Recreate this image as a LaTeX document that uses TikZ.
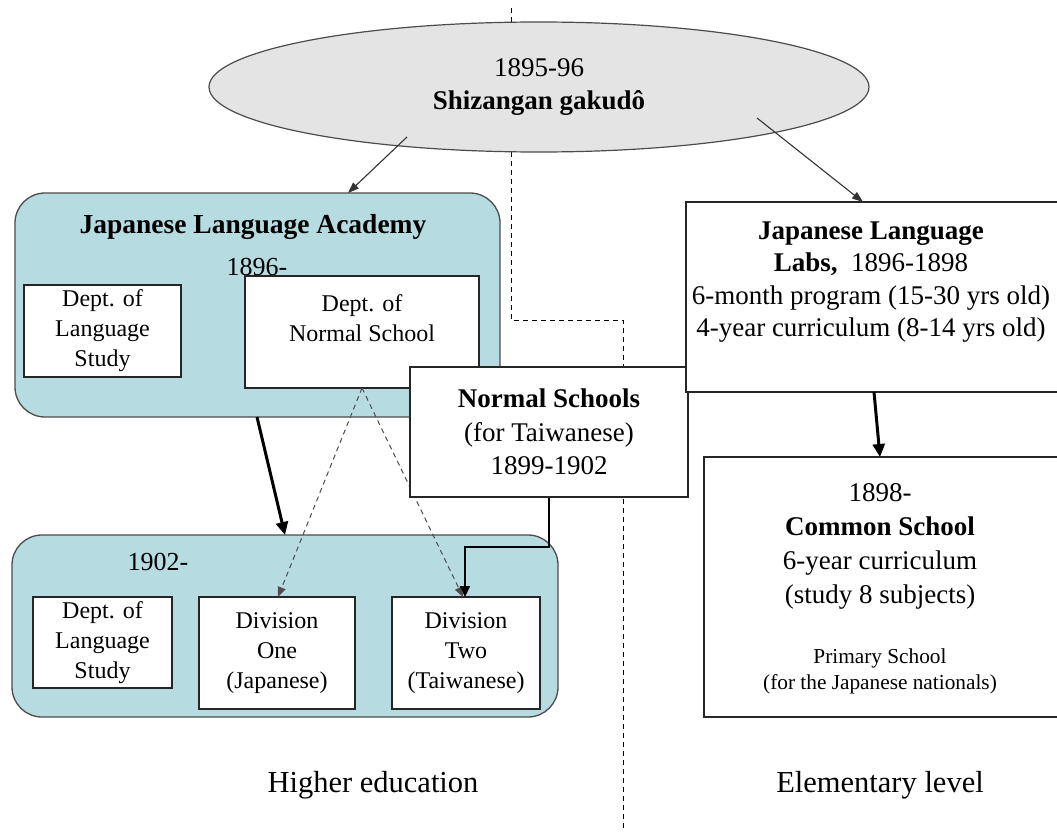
\documentclass[tikz,border=0pt]{standalone}
\usepackage{fontspec}
\setmainfont{Liberation Serif}
\usetikzlibrary{arrows.meta,shapes.geometric}
\definecolor{tealfill}{RGB}{182,220,226}
\definecolor{ellfill}{RGB}{228,228,228}
\begin{document}
\begin{tikzpicture}[x=1pt,y=-1pt,
  box/.style={draw=black!85, line width=1.1pt, fill=white, rectangle, inner sep=0pt, outer sep=0pt, align=center, font=\fontsize{24}{30}\selectfont},
  group/.style={draw=black!70, line width=1.3pt, fill=tealfill, rectangle, rounded corners=30pt, inner sep=0pt, outer sep=0pt},
  big/.style={font=\fontsize{27}{33.5}\selectfont, align=center, inner sep=0pt},
  txt/.style={inner sep=0pt, align=center},
  divider/.style={line width=0.9pt, dash pattern=on 5pt off 4pt, black},
  thinarrow/.style={line width=1.1pt, black!80, -{Triangle[length=11pt,width=8pt]}},
  thickarrow/.style={line width=3pt, black, -{Triangle[length=13pt,width=12pt]}},
  dasharrow/.style={line width=1pt, black!70, dash pattern=on 5pt off 4pt, -{Triangle[length=10pt,width=8pt]}},
  elbowarrow/.style={line width=1.6pt, black, -{Triangle[length=11pt,width=10pt]}}
]
\useasboundingbox (0,0) rectangle (1057,832);
\begin{scope}
\clip (0,0) rectangle (1057,832);
\fill[white] (0,0) rectangle (1057,832);

% divider
\coordinate (d0) at (511,8);
\coordinate (d1) at (511,320);
\coordinate (d2) at (623,320);
\coordinate (d3) at (623,832);
\draw[divider] (d0) -- (d1) -- (d2) -- (d3);

% Japanese Language Academy group
\node[group, minimum width=485pt, minimum height=224pt] (jla) at (257.5,305) {};
\node[txt, font=\fontsize{27.5}{33}\selectfont\bfseries] (jlat) at (253,227) {Japanese Language Academy};
\node[txt, font=\fontsize{26}{30}\selectfont] (jlay) at (257,267) {1896-};
\node[box, minimum width=157pt, minimum height=92pt] (dls1) at (102.5,331) {Dept. of\\Language\\Study};
\node[box, minimum width=234pt, minimum height=112pt] (dns) at (362,332) {};
\node[txt, font=\fontsize{24}{30}\selectfont] (dnst) at (362,318) {Dept. of\\Normal School};

% 1902 group
\node[group, minimum width=546pt, minimum height=182pt] (grp2) at (285,626) {};
\node[txt, font=\fontsize{26}{30}\selectfont] (grp2y) at (158,562) {1902-};
\node[box, minimum width=139pt, minimum height=91pt] (dls2) at (102.5,642.5) {Dept. of\\Language\\Study};
\node[box, minimum width=156pt, minimum height=112pt] (div1) at (277,653) {Division\\One\\(Japanese)};
\node[box, minimum width=148pt, minimum height=112pt] (div2) at (466,653) {Division\\Two\\(Taiwanese)};

% dashed arrows from Dept. of Normal School
\draw[dasharrow] (dns.south) -- (div1.north -| 278,0);
\draw[dasharrow] (dns.south) -- (div2.north -| 463,0);

% thick arrow academy -> 1902
\draw[thickarrow] (jla.south -| 257,0) -- (grp2.north -| 285,0);

% Normal Schools box
\coordinate (e1) at (549,547);
\coordinate (e2) at (465,547);
\draw[elbowarrow] (549,497) -- (e1) -- (e2) -- (div2.north -| e2);
\node[box, minimum width=278pt, minimum height=130pt, font=\fontsize{27}{33.5}\selectfont] (ns) at (549,432) {\textbf{Normal Schools}\\(for Taiwanese)\\1899-1902};

% Labs box
\node[box, minimum width=376pt, minimum height=190pt] (labs) at (874,297) {};
\node[big, font=\fontsize{27}{32.5}\selectfont] (labst) at (871,282) {\textbf{Japanese Language}\\\textbf{Labs,}\ \ 1896-1898\\6-month program (15-30 yrs old)\\4-year curriculum (8-14 yrs old)};

% Common School box
\node[box, minimum width=358pt, minimum height=260pt] (cs) at (883,587) {};
\node[big, font=\fontsize{27}{34}\selectfont] (cst) at (880,546) {1898-\\\textbf{Common School}\\6-year curriculum\\(study 8 subjects)};
\node[txt, font=\fontsize{21.3}{26}\selectfont] (csp) at (880,671) {Primary School\\(for the Japanese nationals)};

\draw[thickarrow] (labs.south -| 874,0) -- (cs.north -| 880,0);

% ellipse
\node[ellipse, draw=black!70, line width=1.2pt, fill=ellfill, minimum width=660pt, minimum height=130pt, inner sep=0pt, align=center, font=\fontsize{27}{33}\selectfont] (ell) at (539,87) {1895-96\\\textbf{Shizangan gakudô}};
\coordinate (s1) at (407,137);
\coordinate (s2) at (757,118);
\draw[thinarrow] (s1) -- (jla.north -| 348,0);
\draw[thinarrow] (s2) -- (labs.north -| 863,0);

% bottom labels
\node[txt, font=\fontsize{30.5}{34}\selectfont] (he) at (373,785) {Higher education};
\node[txt, font=\fontsize{30.5}{34}\selectfont] (el) at (880,785) {Elementary level};
\end{scope}
\end{tikzpicture}
\end{document}
